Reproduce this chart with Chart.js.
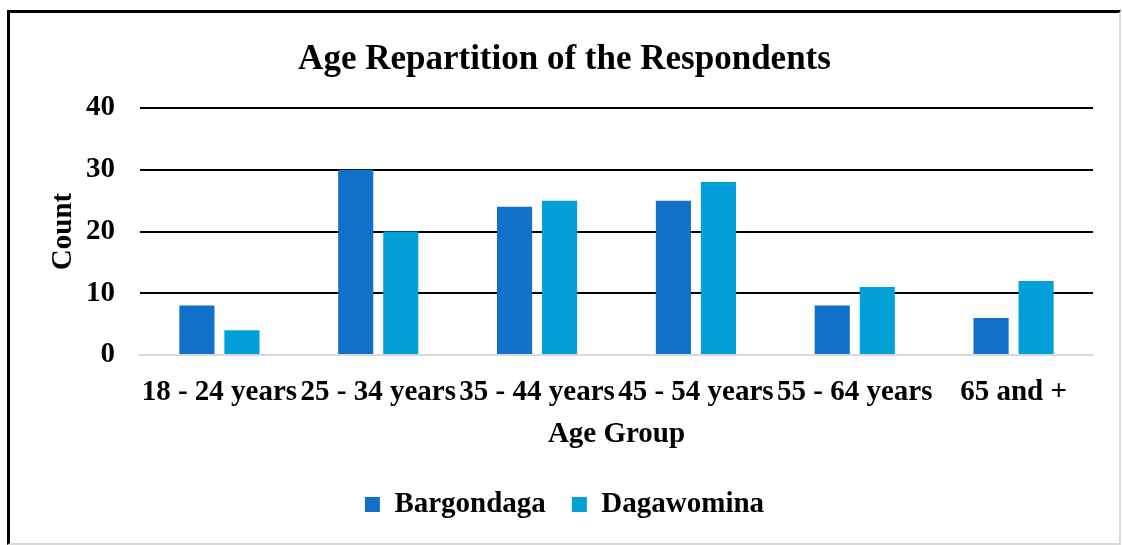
<!DOCTYPE html>
<html>
<head>
<meta charset="utf-8">
<script src="https://cdn.jsdelivr.net/npm/chart.js@4.4.1/dist/chart.umd.min.js"></script>
<style>
  html, body { margin: 0; padding: 0; background: #fff; }
  #frame {
    position: absolute; left: 7px; top: 10px;
    width: 1109px; height: 530px;
    border-top: 3px solid #000; border-left: 3px solid #000;
    border-right: 2px solid #d9d9d9; border-bottom: 2px solid #d9d9d9;
  }
  #chart { display: block; }
</style>
</head>
<body>
<div id="frame"><canvas id="chart" width="1109" height="530"></canvas></div>
<script>
// Данные графика
const ageGroups = ['18 - 24 years', '25 - 34 years', '35 - 44 years', '45 - 54 years', '55 - 64 years', '65 and +'];
const bargondaga = [8, 30, 24, 25, 8, 6];
const dagawomina = [4, 20, 25, 28, 11, 12];
const yTicks = [0, 10, 20, 30, 40];

const serif = '"Liberation Serif", "Times New Roman", serif';

const ctx = document.getElementById('chart').getContext('2d');
const chart = new Chart(ctx, {
    type: 'bar',
    data: {
        labels: ageGroups,
        datasets: [
            { label: 'Bargondaga', data: bargondaga, backgroundColor: '#1170c8' },
            { label: 'Dagawomina', data: dagawomina, backgroundColor: '#029fd9' }
        ]
    },
    options: {
        responsive: false,
        animation: false,
        categoryPercentage: 0.567,
        barPercentage: 0.78,
        layout: { padding: { left: 0, right: 0, top: 0, bottom: 14 } },
        scales: {
            x: {
                grid: { display: false, drawTicks: false },
                border: { color: '#d9d9d9', width: 2 },
                ticks: {
                    color: '#000', font: { family: serif, size: 29, weight: 'bold' },
                    maxRotation: 0, minRotation: 0, autoSkip: false, padding: 20
                },
                title: {
                    display: true, text: 'Age Group', color: '#000',
                    font: { family: serif, size: 29, weight: 'bold' },
                    padding: { top: 0, bottom: 12 }
                },
                afterFit: (s) => { s.height = 109; }
            },
            y: {
                min: 0, max: 40,
                afterBuildTicks: (s) => { s.ticks = yTicks.map(v => ({ value: v })); },
                grid: {
                    drawTicks: false, lineWidth: 2,
                    color: (c) => c.tick && c.tick.value === 0 ? '#d9d9d9' : '#000'
                },
                border: { display: false },
                ticks: { color: '#000', font: { family: serif, size: 29, weight: 'bold' }, padding: 25 },
                title: {
                    display: true, text: 'Count', color: '#000',
                    font: { family: serif, size: 29, weight: 'bold' },
                    padding: 36
                },
                afterFit: (s) => { s.width = 130; }
            },
            // пустая правая ось — только отступ справа
            yRight: {
                position: 'right', min: 0, max: 40,
                grid: { display: false, drawTicks: false },
                border: { display: false },
                ticks: { display: false },
                afterFit: (s) => { s.width = 26; }
            }
        },
        plugins: {
            title: {
                display: true, text: 'Age Repartition of the Respondents', color: '#000',
                font: { family: serif, size: 35, weight: 'bold' },
                padding: { top: 26, bottom: 27 }
            },
            legend: {
                position: 'bottom',
                labels: {
                    color: '#000', boxWidth: 15, boxHeight: 15, padding: 26,
                    font: { family: serif, size: 29, weight: 'bold' }
                }
            },
            tooltip: { enabled: false }
        }
    }
});
</script>
</body>
</html>
